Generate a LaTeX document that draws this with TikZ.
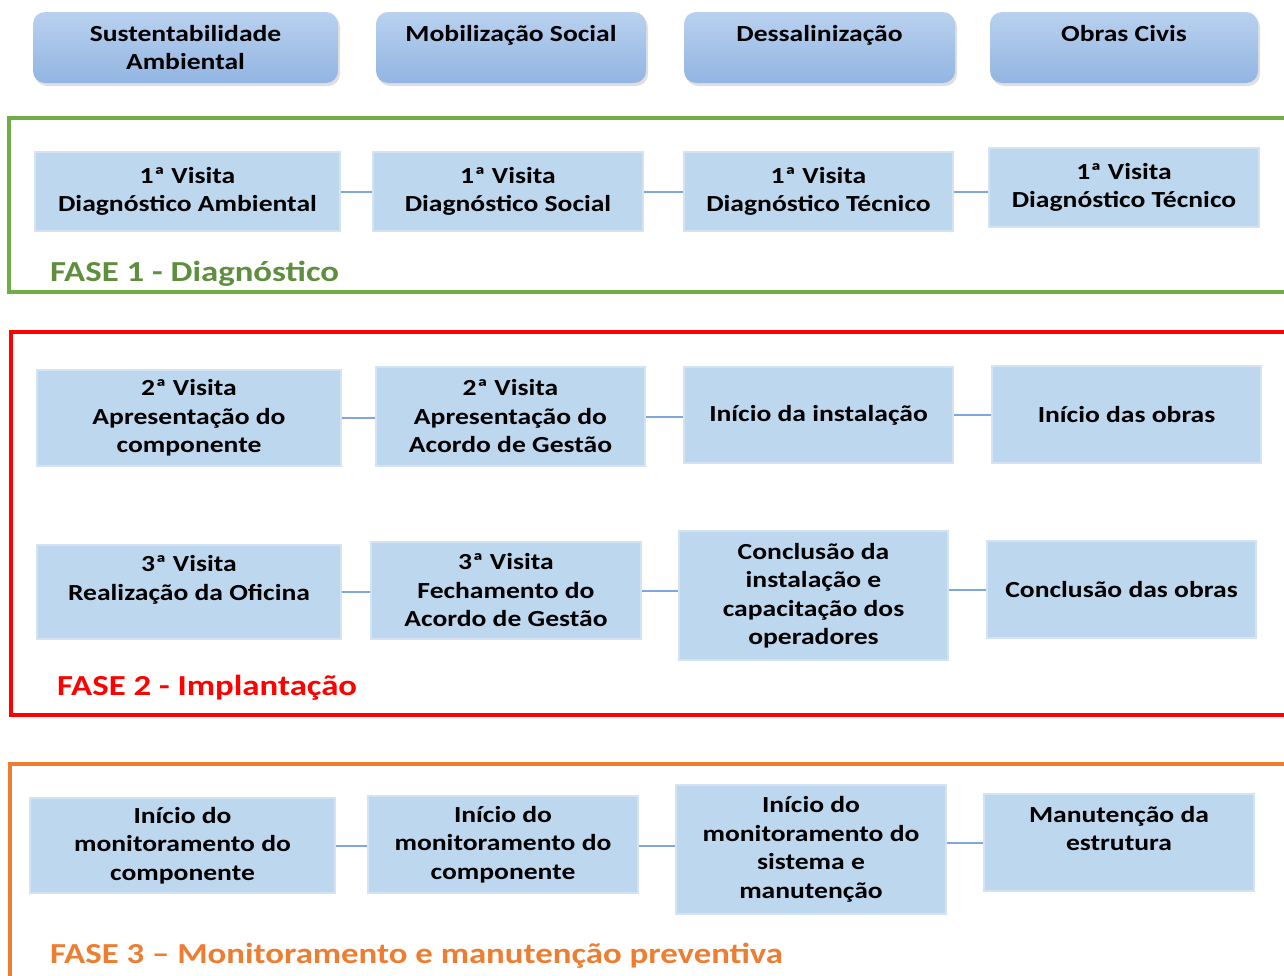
\documentclass[tikz,border=0pt]{standalone}
\usepackage{fontspec}
\setmainfont{Carlito}[FakeStretch=1.2]
\usepackage{tikz}
\usetikzlibrary{shadows}

\definecolor{boxblue}{HTML}{BDD7EE}
\definecolor{boxedge}{HTML}{D3E3F3}
\definecolor{linkblue}{HTML}{7FA7D9}
\definecolor{hdrtop}{HTML}{B9D1EF}
\definecolor{hdrbot}{HTML}{92B5E2}
\definecolor{fasegreen}{HTML}{70AD47}
\definecolor{fasegreentxt}{HTML}{5E8E3E}
\definecolor{faseorange}{HTML}{ED7D31}

\begin{document}
\begin{tikzpicture}[x=1pt,y=-1pt,
	every node/.style={font=\fontsize{23}{28.5}\selectfont\bfseries,align=center,inner sep=0pt},
	hdr/.style={rounded corners=12pt,top color=hdrtop,bottom color=hdrbot,minimum height=71pt,
		drop shadow={opacity=0.25,shadow xshift=2pt,shadow yshift=-3pt}},
	bx/.style={fill=boxblue,draw=boxedge,line width=1.5pt},
	link/.style={linkblue,line width=2pt},
	fase/.style={anchor=base west,font=\fontsize{29}{34}\selectfont\bfseries}]
			
			\clip (0,0) rectangle (1284,975);
			
			% componentes
			\node[hdr,minimum width=305pt] (H1) at (185.5,47.5) {Sustentabilidade\\Ambiental};
			\node[hdr,minimum width=270pt] (H2) at (511,47.5) {Mobilização Social\\ \mbox{}};
			\node[hdr,minimum width=271pt] (H3) at (819.5,47.5) {Dessalinização\\ \mbox{}};
			\node[hdr,minimum width=268pt] (H4) at (1124,47.5) {Obras Civis\\ \mbox{}};
			
			% fase 1
			\draw[fasegreen,line width=4pt] (9,118) rectangle (1320,292);
			\node[fase,text=fasegreentxt] (F1) at (50,281) {FASE 1 - Diagnóstico};
			
			\node[bx,minimum width=305pt,minimum height=79pt] (D1) at (187.5,191.5) {1ª Visita\\Diagnóstico Ambiental};
			\node[bx,minimum width=270pt,minimum height=79pt] (D2) at (508,191.5) {1ª Visita\\Diagnóstico Social};
			\node[bx,minimum width=269pt,minimum height=79pt] (D3) at (818.5,191.5) {1ª Visita\\Diagnóstico Técnico};
			\node[bx,minimum width=270pt,minimum height=79pt] (D4) at (1124,187.5) {1ª Visita\\Diagnóstico Técnico};
			
			\draw[link] (D1.east) -- (D1.east -| D2.west);
			\draw[link] (D2.east) -- (D2.east -| D3.west);
			\draw[link] (D3.east) -- (D3.east -| D4.west);
			
			% fase 2
			\draw[red,line width=4pt] (11,332) rectangle (1320,715);
			\node[fase,text=red] (F2) at (57,695) {FASE 2 - Implantação};
			
			\node[bx,minimum width=304pt,minimum height=96pt] (I1) at (189,418) {2ª Visita\\Apresentação do\\componente};
			\node[bx,minimum width=269pt,minimum height=99pt] (I2) at (510.5,416.5) {2ª Visita\\Apresentação do\\Acordo de Gestão};
			\node[bx,minimum width=269pt,minimum height=96pt] (I3) at (818.5,415) {Início da instalação};
			\node[bx,minimum width=269pt,minimum height=97pt] (I4) at (1126.5,414.5) {Início das obras};
			
			\draw[link] (I1.east) -- (I1.east -| I2.west);
			\draw[link] (I2.east) -- (I2.east -| I3.west);
			\draw[link] (I3.east) -- (I3.east -| I4.west);
			
			\node[bx,minimum width=304pt,minimum height=94pt] (P1) at (189,592) {3ª Visita\\Realização da Oficina\\ \mbox{}};
			\node[bx,minimum width=270pt,minimum height=97pt] (P2) at (506,590.5) {3ª Visita\\Fechamento do\\Acordo de Gestão};
			\node[bx,minimum width=269pt,minimum height=129pt] (P3) at (813.5,595.5) {Conclusão da\\instalação e\\capacitação dos\\operadores};
			\node[bx,minimum width=269pt,minimum height=97pt] (P4) at (1121.5,589.5) {Conclusão das obras};
			
			\draw[link] (P1.east) -- (P1.east -| P2.west);
			\draw[link] (P2.east) -- (P2.east -| P3.west);
			\draw[link] (P3.east |- P4.west) -- (P4.west);
			
			% fase 3
			\draw[faseorange,line width=4pt] (10,764) rectangle (1320,1000);
			\node[fase,text=faseorange] (F3) at (50,963) {FASE 3 – Monitoramento e manutenção preventiva};
			
			\node[bx,minimum width=305pt,minimum height=95pt] (M1) at (182.5,845.5) {Início do\\monitoramento do\\componente};
			\node[bx,minimum width=270pt,minimum height=97pt] (M2) at (503,844.5) {Início do\\monitoramento do\\componente};
			\node[bx,minimum width=270pt,minimum height=129pt] (M3) at (811,849.5) {Início do\\monitoramento do\\sistema e\\manutenção};
			\node[bx,minimum width=270pt,minimum height=97pt] (M4) at (1119,842.5) {Manutenção da\\estrutura\\ \mbox{}};
			
			\draw[link] (M1.east) -- (M1.east -| M2.west);
			\draw[link] (M2.east |- M1.east) -- (M1.east -| M3.west);
			\draw[link] (M3.east |- M4.west) -- (M4.west);
			
		\end{tikzpicture}
\end{document}
